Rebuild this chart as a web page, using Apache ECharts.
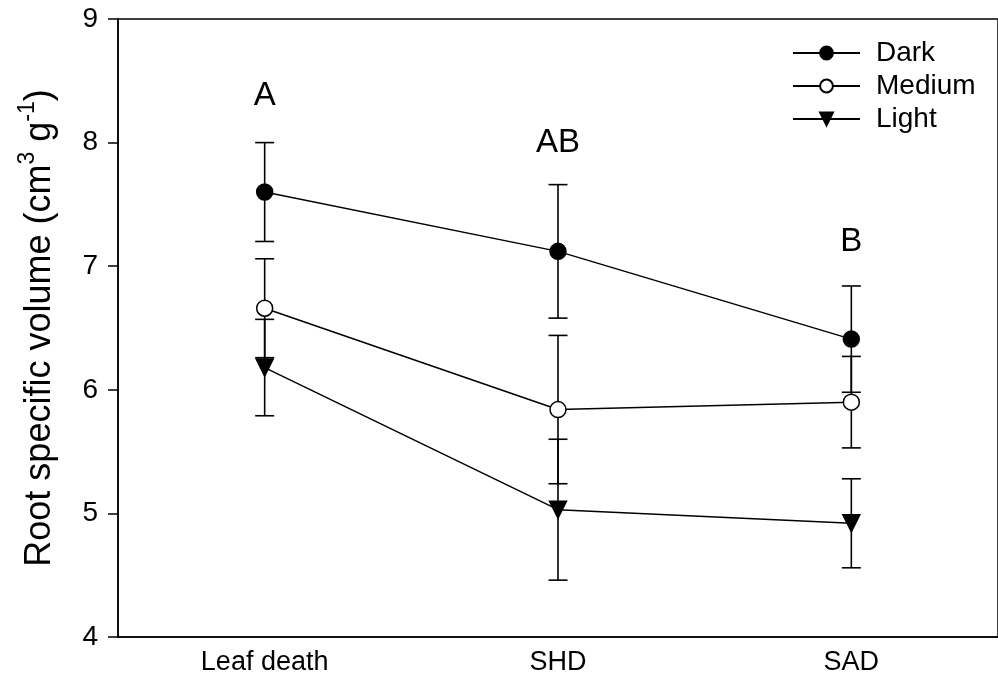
<!DOCTYPE html>
<html>
<head>
<meta charset="utf-8">
<script src="https://cdn.jsdelivr.net/npm/echarts@6/dist/echarts.min.js"></script>
<style>
  html, body { margin: 0; padding: 0; background: #fff; }
  #chart { width: 998px; height: 693px; }
</style>
</head>
<body>
<div id="chart"></div>
<script>
// categories and series (mean ± error)
const stages = ["Leaf death", "SHD", "SAD"];
const darkMean = [7.60, 7.12, 6.41];
const darkErr = [0.40, 0.54, 0.43];
const mediumMean = [6.66, 5.84, 5.90];
const mediumErr = [0.40, 0.60, 0.37];
const lightMean = [6.18, 5.03, 4.92];
const lightErr = [0.39, 0.57, 0.36];
// significance letters above each stage
const letters = ["A", "AB", "B"];
const letterY = [8.38, 8.0, 7.2];

const FONT = "Arial, 'Liberation Sans', sans-serif";

function errData(mean, err) {
  return mean.map((m, i) => [i, m - err[i], m + err[i]]);
}

function errSeries(mean, err) {
  return {
    type: "custom",
    silent: true,
    z: 1,
    data: errData(mean, err),
    renderItem: function (params, api) {
      const lo = api.coord([api.value(0), api.value(1)]);
      const hi = api.coord([api.value(0), api.value(2)]);
      const w = 9.5;
      const st = { stroke: "#000", lineWidth: 1.6 };
      return {
        type: "group",
        children: [
          { type: "line", shape: { x1: lo[0], y1: lo[1], x2: hi[0], y2: hi[1] }, style: st },
          { type: "line", shape: { x1: lo[0] - w, y1: lo[1], x2: lo[0] + w, y2: lo[1] }, style: st },
          { type: "line", shape: { x1: hi[0] - w, y1: hi[1], x2: hi[0] + w, y2: hi[1] }, style: st }
        ]
      };
    }
  };
}

function lineSeries(name, data, symbol, fill, rotate) {
  return {
    name: name,
    type: "line",
    data: data,
    symbol: symbol,
    symbolSize: symbol === "triangle" ? 17 : 16,
    symbolRotate: rotate || 0,
    z: 3,
    lineStyle: { color: "#000", width: 1.5 },
    itemStyle: { color: fill, borderColor: "#000", borderWidth: 1.5 }
  };
}

const chart = echarts.init(document.getElementById("chart"));

const option = {
  animation: false,
  backgroundColor: "#fff",
  grid: {
    left: 118,
    top: 19,
    right: -2,
    bottom: 56,
    show: true,
    borderColor: "#000",
    borderWidth: 1.5
  },
  legend: {
    orient: "vertical",
    left: 787,
    top: 33,
    itemWidth: 67,
    itemHeight: 16,
    itemGap: 3,
    textStyle: { fontSize: 28, lineHeight: 30, color: "#000", fontFamily: FONT, padding: [0, 0, 0, 11] },
    data: ["Dark", "Medium", "Light"]
  },
  xAxis: {
    type: "category",
    data: stages,
    boundaryGap: true,
    axisLine: { lineStyle: { color: "#000", width: 1.5 } },
    axisTick: { alignWithLabel: true, length: 9, lineStyle: { color: "#000", width: 1.5 } },
    axisLabel: { fontSize: 27, color: "#000", fontFamily: FONT, margin: 12 },
    splitLine: { show: false }
  },
  yAxis: {
    type: "value",
    min: 4,
    max: 9,
    interval: 1,
    axisLine: { show: true, lineStyle: { color: "#000", width: 1.5 } },
    axisTick: { show: true, length: 10, lineStyle: { color: "#000", width: 1.5 } },
    axisLabel: { fontSize: 28, color: "#000", fontFamily: FONT, margin: 20 },
    splitLine: { show: false },
    name: "{a|Root specific volume (cm}{s|3}{a| g}{s|-1}{a|)}",
    nameLocation: "middle",
    nameRotate: 90,
    nameGap: 60,
    nameTextStyle: {
      rich: {
        a: { fontSize: 36, color: "#000", fontFamily: FONT, lineHeight: 42, verticalAlign: "bottom" },
        s: { fontSize: 23, color: "#000", fontFamily: FONT, lineHeight: 42, verticalAlign: "top" }
      }
    }
  },
  series: [
    errSeries(darkMean, darkErr),
    errSeries(mediumMean, mediumErr),
    errSeries(lightMean, lightErr),
    lineSeries("Dark", darkMean, "circle", "#000"),
    lineSeries("Medium", mediumMean, "circle", "#fff"),
    lineSeries("Light", lightMean, "triangle", "#000", 180),
    {
      type: "scatter",
      silent: true,
      symbolSize: 0,
      itemStyle: { opacity: 1 },
      data: letterY.map((v, i) => [i, v]),
      label: {
        show: true,
        position: "inside",
        formatter: p => letters[p.dataIndex],
        fontSize: 33,
        color: "#000",
        opacity: 1,
        fontFamily: FONT
      }
    }
  ]
};

chart.setOption(option);
window.addEventListener("resize", function () {
  chart.resize();
});
</script>
</body>
</html>
